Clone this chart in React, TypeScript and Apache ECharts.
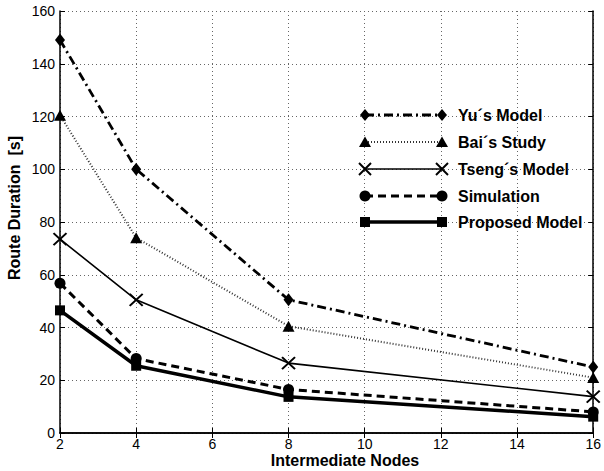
import React, { useEffect, useRef } from "react";
import * as echarts from "echarts";

const nodes = [2, 4, 8, 16];
const yuModel = [149, 100, 50.5, 25];
const baiStudy = [120.5, 74, 40.5, 21];
const tsengModel = [73.5, 50.5, 26.5, 13.8];
const simulation = [56.8, 28.2, 16.5, 8];
const proposedModel = [46.5, 25.5, 13.7, 6.2];
const xTicks = [2, 4, 6, 8, 10, 12, 14, 16];
const yTicks = [0, 20, 40, 60, 80, 100, 120, 140, 160];

const seriesNames = ["Yu´s Model", "Bai´s Study", "Tseng´s Model", "Simulation", "Proposed Model"];

const X_PATH = "path://M0,0L10,10M10,0L0,10";

export default function App() {
  const ref = useRef<HTMLDivElement>(null);
  useEffect(() => {
    document.body.style.margin = "0";
    const chart = echarts.init(ref.current!, undefined, { renderer: "svg" });
    const toPts = (vals: number[]) => nodes.map((n, i) => [n, vals[i]]);
    const font = "'Liberation Sans', Arial, Helvetica, sans-serif";

    const styles = [
      { data: yuModel, symbol: "diamond", size: [10, 13], line: { width: 2.8, type: [9, 4, 2, 4] as any }, dash: [9, 4, 2, 4], lw: 2.8 },
      { data: baiStudy, symbol: "triangle", size: [12, 11], line: { width: 2, type: [1, 2] as any }, dash: [1, 2], lw: 2 },
      { data: tsengModel, symbol: X_PATH, size: [13, 12], line: { width: 1.6, type: "solid" as any }, dash: null, lw: 1.6 },
      { data: simulation, symbol: "circle", size: 11, line: { width: 3, type: [8, 5] as any }, dash: [8, 5], lw: 3 },
      { data: proposedModel, symbol: "rect", size: 10, line: { width: 3.5, type: "solid" as any }, dash: null, lw: 3.5 },
    ];

    const series: any[] = styles.map((s, i) => ({
      name: seriesNames[i],
      type: "line",
      data: toPts(s.data),
      symbol: s.symbol,
      symbolSize: s.size,
      showSymbol: true,
      lineStyle: { color: i === 1 ? "#333" : "#000", width: s.line.width, type: s.line.type },
      itemStyle:
        i === 2
          ? { color: "rgba(0,0,0,0)", borderColor: "#000", borderWidth: 2 }
          : { color: "#000", borderColor: "#000", borderWidth: 0 },
      z: 5 - i,
    }));

    const legendEls: any[] = [];
    const lx1 = 365, lx2 = 442, tx = 458;
    const ly = [115, 142, 169, 196, 222];
    const marker = (kind: number, cx: number, cy: number): any[] => {
      if (kind === 0)
        return [{ type: "polygon", shape: { points: [[cx, cy - 6], [cx + 5, cy], [cx, cy + 6], [cx - 5, cy]] }, style: { fill: "#000" } }];
      if (kind === 1)
        return [{ type: "polygon", shape: { points: [[cx, cy - 5.5], [cx + 6, cy + 5], [cx - 6, cy + 5]] }, style: { fill: "#000" } }];
      if (kind === 2)
        return [
          { type: "line", shape: { x1: cx - 6, y1: cy - 6, x2: cx + 6, y2: cy + 6 }, style: { stroke: "#000", lineWidth: 2 } },
          { type: "line", shape: { x1: cx + 6, y1: cy - 6, x2: cx - 6, y2: cy + 6 }, style: { stroke: "#000", lineWidth: 2 } },
        ];
      if (kind === 3) return [{ type: "circle", shape: { cx, cy, r: 5.5 }, style: { fill: "#000" } }];
      return [{ type: "rect", shape: { x: cx - 5, y: cy - 5, width: 10, height: 10 }, style: { fill: "#000" } }];
    };
    styles.forEach((s, i) => {
      const y = ly[i];
      legendEls.push({
        type: "line",
        shape: { x1: lx1, y1: y, x2: lx2, y2: y },
        style: { stroke: i === 1 ? "#333" : "#000", lineWidth: s.lw, lineDash: s.dash || undefined },
        z: 10,
      });
      marker(i, lx1, y).forEach((m) => legendEls.push({ ...m, z: 11 }));
      marker(i, lx2, y).forEach((m) => legendEls.push({ ...m, z: 11 }));
      legendEls.push({
        type: "text",
        x: tx,
        y,
        style: { text: seriesNames[i], font: `bold 16px ${font}`, fill: "#000", verticalAlign: "middle", align: "left" },
        z: 11,
      });
    });
    legendEls.push({
      type: "text",
      x: 345,
      y: 460.5,
      style: { text: "Intermediate Nodes", font: `bold 16px ${font}`, fill: "#000", align: "center", verticalAlign: "middle" },
    });
    legendEls.push({
      type: "text",
      x: 14,
      y: 208,
      rotation: Math.PI / 2,
      style: { text: "Route Duration  [s]", font: `bold 16px ${font}`, fill: "#000", align: "center", verticalAlign: "middle" },
    });

    const splitLine = { show: true, lineStyle: { color: "#666", width: 1, type: [1, 3] as any } };
    const axisLine = { show: true, lineStyle: { color: "#000", width: 1.5 } };
    const axisTick = { show: true, inside: true, length: 5, lineStyle: { color: "#000", width: 1 } };

    chart.setOption({
      animation: false,
      backgroundColor: "#fff",
      grid: { left: 60, right: 8, top: 11, bottom: 38, containLabel: false },
      xAxis: [
        {
          type: "value",
          min: 2,
          max: 16,
          interval: 2,
          axisLine,
          axisTick,
          splitLine,
          axisLabel: { color: "#000", fontSize: 14, lineHeight: 14, fontFamily: font, margin: 4, formatter: (v: number) => (xTicks.includes(v) ? String(v) : "") },
        },
        {
          type: "value",
          position: "top",
          min: 2,
          max: 16,
          interval: 2,
          axisLine,
          axisTick,
          splitLine: { show: false },
          axisLabel: { show: false },
        },
      ],
      yAxis: [
        {
          type: "value",
          min: 0,
          max: 160,
          interval: 20,
          axisLine,
          axisTick,
          splitLine,
          axisLabel: { color: "#000", fontSize: 14, fontFamily: font, margin: 5, formatter: (v: number) => (yTicks.includes(v) ? String(v) : "") },
        },
        {
          type: "value",
          position: "right",
          min: 0,
          max: 160,
          interval: 20,
          axisLine,
          axisTick,
          splitLine: { show: false },
          axisLabel: { show: false },
        },
      ],
      series,
      graphic: legendEls,
    });
    return () => chart.dispose();
  }, []);
  return <div ref={ref} style={{ width: 604, height: 471 }} />;
}
